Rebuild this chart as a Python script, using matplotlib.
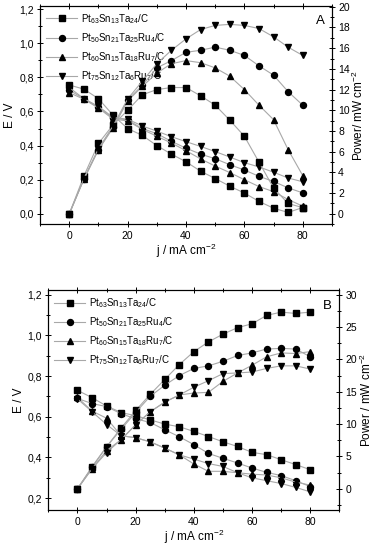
import matplotlib
matplotlib.use('Agg')
import matplotlib.pyplot as plt
from matplotlib.ticker import FuncFormatter, MultipleLocator

plt.rcParams['font.family'] = ['Liberation Sans', 'DejaVu Sans']
plt.rcParams['mathtext.fontset'] = 'custom'
plt.rcParams['mathtext.rm'] = 'Liberation Sans'
plt.rcParams['mathtext.default'] = 'regular'

j = [0, 5, 10, 15, 20, 25, 30, 35, 40, 45, 50, 55, 60, 65, 70, 75, 80]

labels = [r'Pt$_{63}$Sn$_{13}$Ta$_{24}$/C',
          r'Pt$_{50}$Sn$_{21}$Ta$_{25}$Ru$_{4}$/C',
          r'Pt$_{60}$Sn$_{15}$Ta$_{18}$Ru$_{7}$/C',
          r'Pt$_{75}$Sn$_{12}$Ta$_{6}$Ru$_{7}$/C']
markers = ['s', 'o', '^', 'v']

# panel A
eA_1 = [0.755, 0.731, 0.675, 0.578, 0.50, 0.46, 0.40, 0.35, 0.305, 0.25, 0.207, 0.162, 0.122, 0.073, 0.033, 0.008, 0.037]
eA_2 = [0.725, 0.675, 0.625, 0.562, 0.55, 0.50, 0.47, 0.425, 0.385, 0.35, 0.323, 0.288, 0.257, 0.22, 0.19, 0.152, 0.123]
eA_3 = [0.71, 0.672, 0.62, 0.555, 0.545, 0.495, 0.455, 0.415, 0.37, 0.322, 0.28, 0.242, 0.20, 0.16, 0.13, 0.084, 0.045]
eA_4 = [0.74, 0.675, 0.63, 0.565, 0.555, 0.515, 0.485, 0.452, 0.423, 0.395, 0.365, 0.333, 0.30, 0.275, 0.244, 0.21, 0.188]
pA_1 = [0, 3.65, 6.8, 8.6, 10.0, 11.5, 12.0, 12.2, 12.2, 11.4, 10.5, 9.05, 7.5, 5.0, 2.5, 1.0, 0.6]
pA_2 = [0, 3.35, 6.2, 8.4, 11.0, 12.4, 14.1, 14.8, 15.6, 15.8, 16.1, 15.8, 15.3, 14.3, 13.4, 11.8, 10.5]
pA_3 = [0, 3.35, 6.2, 8.3, 10.9, 12.3, 13.6, 14.5, 14.8, 14.6, 14.1, 13.3, 12.0, 10.5, 9.1, 6.2, 3.7]
pA_4 = [0, 3.4, 6.3, 8.5, 11.1, 12.8, 14.5, 15.8, 16.9, 17.8, 18.2, 18.3, 18.2, 17.9, 17.1, 16.1, 15.3]

# panel B
eB_1 = [0.73, 0.694, 0.653, 0.621, 0.605, 0.585, 0.564, 0.551, 0.528, 0.503, 0.477, 0.454, 0.425, 0.414, 0.389, 0.365, 0.34]
eB_2 = [0.69, 0.665, 0.65, 0.615, 0.59, 0.572, 0.536, 0.502, 0.463, 0.42, 0.396, 0.373, 0.348, 0.327, 0.311, 0.286, 0.257]
eB_3 = [0.695, 0.628, 0.593, 0.507, 0.497, 0.477, 0.446, 0.413, 0.368, 0.332, 0.332, 0.325, 0.318, 0.314, 0.30, 0.279, 0.264]
eB_4 = [0.688, 0.625, 0.562, 0.507, 0.497, 0.477, 0.446, 0.413, 0.392, 0.37, 0.356, 0.325, 0.30, 0.286, 0.272, 0.253, 0.231]
pB_1 = [0, 3.4, 6.5, 9.4, 12.1, 14.6, 16.9, 19.2, 21.2, 22.7, 23.9, 24.9, 25.5, 26.8, 27.3, 27.1, 27.3]
pB_2 = [0, 3.3, 6.5, 9.2, 11.8, 14.3, 16.0, 17.5, 18.6, 19.0, 19.7, 20.6, 21.0, 21.6, 21.7, 21.6, 20.4]
pB_3 = [0, 3.1, 5.9, 7.6, 9.9, 11.9, 13.4, 14.5, 14.8, 14.9, 16.6, 17.9, 19.1, 20.4, 21.0, 20.9, 21.2]
pB_4 = [0, 3.1, 5.6, 7.6, 9.9, 11.9, 13.4, 14.5, 15.7, 16.7, 17.8, 17.9, 18.05, 18.6, 19.0, 19.0, 18.5]

comma = FuncFormatter(lambda v, pos: ('%.1f' % v).replace('.', ','))


def panel(rect, eList, pList, ylimL, ylimR, stepR, letter, rlabel):
    ax = fig.add_axes(rect)
    ax2 = ax.twinx()
    handles = []
    for e, p, m, lab in zip(eList, pList, markers, labels):
        h, = ax.plot(j, e, marker=m, color='#a8a8a8', lw=0.8, mfc='black', mec='black', ms=4.3, label=lab)
        ax2.plot(j, p, marker=m, color='#a8a8a8', lw=0.8, mfc='black', mec='black', ms=4.3)
        handles.append(h)
    ax.set_xlim(-10, 90)
    ax.set_ylim(*ylimL)
    ax2.set_ylim(*ylimR)
    ax.xaxis.set_major_locator(MultipleLocator(20))
    ax.xaxis.set_minor_locator(MultipleLocator(10))
    ax.yaxis.set_major_locator(MultipleLocator(0.2))
    ax.yaxis.set_minor_locator(MultipleLocator(0.1))
    ax.yaxis.set_major_formatter(comma)
    ax2.yaxis.set_major_locator(MultipleLocator(stepR))
    ax2.yaxis.set_minor_locator(MultipleLocator(stepR / 2))
    ax.tick_params(which='both', direction='inout', labelsize=7.5, top=True, pad=2)
    ax.tick_params(which='major', length=5, width=0.7)
    ax.tick_params(which='minor', length=3, width=0.7)
    ax2.tick_params(which='both', direction='inout', labelsize=7.5, pad=2)
    ax2.tick_params(which='major', length=5, width=0.7)
    ax2.tick_params(which='minor', length=3, width=0.7)
    for a in (ax, ax2):
        for s in a.spines.values():
            s.set_linewidth(0.8)
    ax.set_xlabel(r'j / mA cm$^{-2}$', fontsize=8.5, labelpad=1)
    ax.set_ylabel('E / V', fontsize=8.5, labelpad=2)
    ax2.set_ylabel(rlabel, fontsize=8.5, labelpad=1)
    ax.legend(handles=handles, loc='upper left', frameon=False, fontsize=7,
              handlelength=3.2, labelspacing=0.55, borderaxespad=0.2, handletextpad=0.4)
    ax.text(0.975, 0.93, letter, transform=ax.transAxes, ha='right', va='center', fontsize=9.5)
    return ax


fig = plt.figure(figsize=(3.75, 5.5), dpi=100)
panel([0.107, 0.592, 0.778, 0.397], [eA_1, eA_2, eA_3, eA_4], [pA_1, pA_2, pA_3, pA_4],
      (-0.062, 1.218), (-1.02, 20.07), 2, 'A', r'Power/ mW cm$^{-2}$')
panel([0.129, 0.072, 0.776, 0.400], [eB_1, eB_2, eB_3, eB_4], [pB_1, pB_2, pB_3, pB_4],
      (0.14, 1.221), (-3.34, 30.66), 5, 'B', r'Power / mW cm$^{-2}$')

fig.savefig('out.png', dpi=100)
